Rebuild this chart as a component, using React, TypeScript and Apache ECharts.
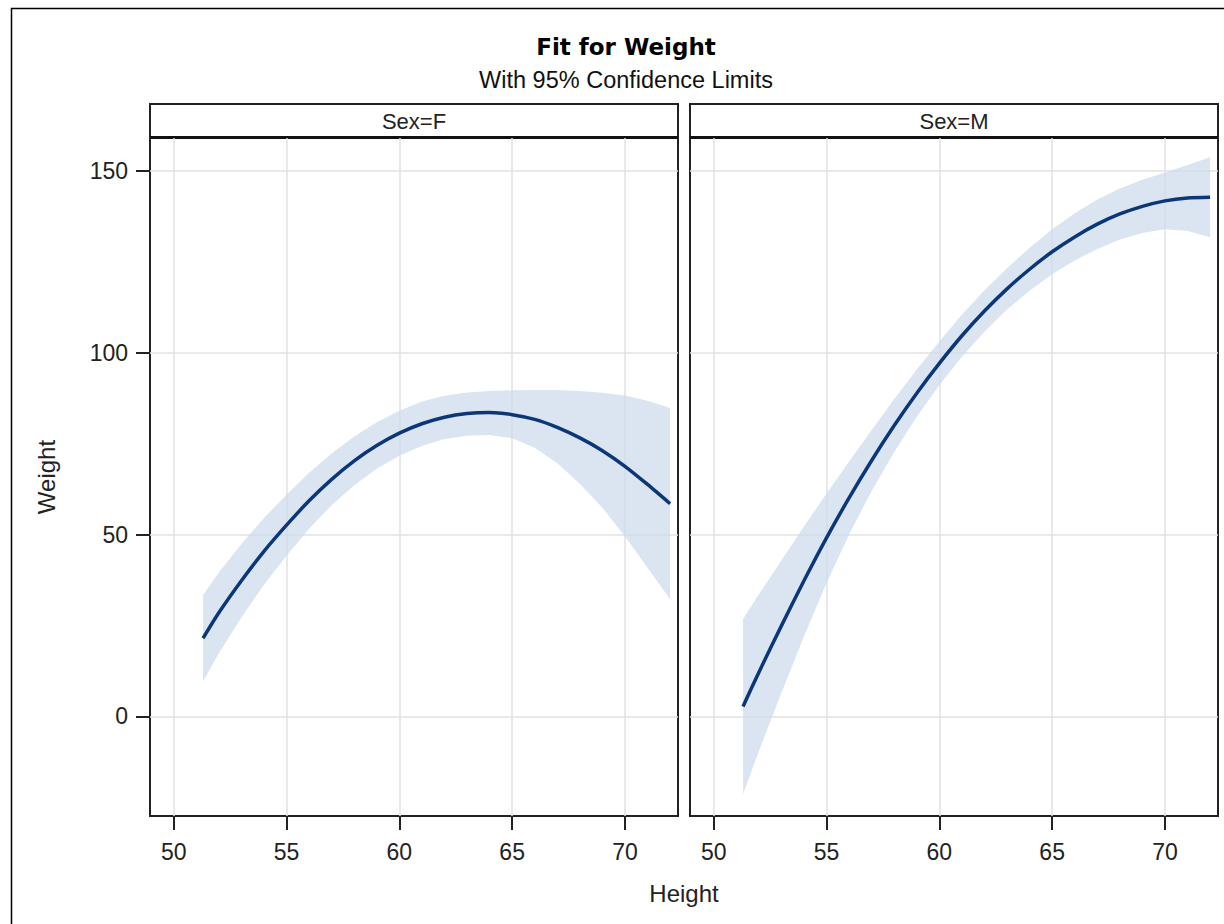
import React, { useEffect, useRef } from "react";
import * as echarts from "echarts";

// ---- data ----
const heights = [51.3, 52, 53, 54, 55, 56, 57, 58, 59, 60, 61, 62, 63, 64, 65, 66, 67, 68, 69, 70, 71, 72];

const fFit = [21.5, 28.5, 37.3, 45.4, 52.6, 59.3, 65.2, 70.3, 74.5, 77.9, 80.5, 82.3, 83.3, 83.6, 83.0, 81.7, 79.5, 76.6, 73.1, 68.8, 63.8, 58.5];
const fUpper = [33.4, 39.6, 47.4, 54.6, 61.0, 67.0, 72.3, 77.0, 80.9, 84.1, 86.6, 88.2, 89.1, 89.5, 89.7, 89.8, 89.8, 89.5, 89.0, 88.3, 86.8, 84.8];
const fLower = [9.6, 17.4, 27.2, 36.2, 44.2, 51.6, 58.1, 63.6, 68.1, 71.7, 74.4, 76.3, 77.2, 77.4, 76.5, 73.9, 69.6, 64.0, 57.4, 49.5, 40.9, 32.2];

const mFit = [2.7, 12.1, 24.9, 37.3, 49.1, 60.1, 70.4, 80.0, 88.9, 97.1, 104.7, 111.5, 117.6, 123.0, 127.8, 131.9, 135.4, 138.2, 140.3, 141.8, 142.6, 142.8];
const mUpper = [26.8, 33.5, 42.9, 52.2, 61.3, 70.1, 78.8, 87.3, 95.4, 103.1, 110.5, 117.2, 123.3, 128.9, 134.0, 138.4, 142.2, 145.2, 147.6, 149.6, 151.7, 153.8];
const mLower = [-21.4, -9.6, 6.4, 22.0, 36.7, 50.0, 62.0, 72.7, 82.4, 91.1, 98.9, 105.8, 111.9, 117.1, 121.6, 125.4, 128.6, 131.2, 133.0, 134.0, 133.5, 131.8];

const panelLabels = ["Sex=F", "Sex=M"];
const xTicks = [50, 55, 60, 65, 70];
const yTicks = [0, 50, 100, 150];

const TITLE = "Fit for Weight";
const SUBTITLE = "With 95% Confidence Limits";
const X_NAME = "Height";
const Y_NAME = "Weight";

// ---- styling ----
const FONT = "Liberation Sans";
const LINE_COLOR = "#0b3779";
const BAND_FILL = "rgba(205,219,236,0.72)";
const GRID_COLOR = "#e2e2e2";
const FRAME = "#222";

const X_MIN = 48.95;
const X_MAX = 72.35;
const Y_MIN = -27.4;
const Y_MAX = 159.1;

const GRID_TOP = 138;
const GRID_H = 678;
const GRID_W = 528;
const LEFTS = [150, 690];

export default function App() {
  const ref = useRef<HTMLDivElement>(null);

  useEffect(() => {
    document.body.style.margin = "0";
    const chart = echarts.init(ref.current as HTMLDivElement, null, { renderer: "svg" });

    const panels = [
      { fit: fFit, upper: fUpper, lower: fLower },
      { fit: mFit, upper: mUpper, lower: mLower },
    ];

    const grids = LEFTS.map((left) => ({
      left,
      top: GRID_TOP,
      width: GRID_W,
      height: GRID_H,
      show: true,
      borderColor: FRAME,
      borderWidth: 2,
      backgroundColor: "transparent",
      containLabel: false,
    }));

    const xAxes = LEFTS.map((_, i) => ({
      type: "value",
      gridIndex: i,
      position: "bottom",
      min: X_MIN,
      max: X_MAX,
      axisLine: { show: false, onZero: false },
      axisTick: {
        show: true,
        length: 14,
        lineStyle: { color: FRAME, width: 2 },
        customValues: xTicks,
      },
      axisLabel: {
        show: true,
        customValues: xTicks,
        fontSize: 23,
        fontFamily: FONT,
        color: "#222",
        margin: 24,
      },
      splitLine: { show: true, lineStyle: { color: GRID_COLOR, width: 1.5 } },
    }));

    const yAxes = LEFTS.map((_, i) => ({
      type: "value",
      gridIndex: i,
      position: "left",
      min: Y_MIN,
      max: Y_MAX,
      axisLine: { show: false, onZero: false },
      axisTick: {
        show: i === 0,
        length: 14,
        lineStyle: { color: FRAME, width: 2 },
        customValues: yTicks,
      },
      axisLabel: {
        show: i === 0,
        customValues: yTicks,
        fontSize: 23,
        fontFamily: FONT,
        color: "#222",
        margin: 22,
      },
      splitLine: { show: true, lineStyle: { color: GRID_COLOR, width: 1.5 } },
    }));

    const series: any[] = [];
    panels.forEach((p, idx) => {
      series.push({
        type: "custom",
        xAxisIndex: idx,
        yAxisIndex: idx,
        silent: true,
        z: 1,
        data: [[heights[0], p.upper[0]]],
        renderItem: (_params: any, api: any) => {
          const pts: number[][] = [];
          for (let i = 0; i < heights.length; i++) pts.push(api.coord([heights[i], p.upper[i]]));
          for (let i = heights.length - 1; i >= 0; i--) pts.push(api.coord([heights[i], p.lower[i]]));
          return { type: "polygon", shape: { points: pts }, style: { fill: BAND_FILL } };
        },
      });
      series.push({
        type: "line",
        xAxisIndex: idx,
        yAxisIndex: idx,
        silent: true,
        z: 3,
        showSymbol: false,
        smooth: 0.25,
        data: heights.map((h, i) => [h, p.fit[i]]),
        lineStyle: { color: LINE_COLOR, width: 3.5 },
      });
    });

    const graphics: any[] = [
      {
        type: "rect",
        silent: true,
        shape: { x: 11.5, y: 8.5, width: 1400, height: 1000 },
        style: { fill: "none", stroke: "#000", lineWidth: 1.5 },
      },
      {
        type: "text",
        x: 626,
        y: 47,
        style: {
          text: TITLE,
          fontSize: 23,
          fontWeight: "bold",
          fontFamily: "DejaVu Sans",
          fill: "#000",
          align: "center",
          verticalAlign: "middle",
        },
      },
      {
        type: "text",
        x: 626,
        y: 80,
        style: {
          text: SUBTITLE,
          fontSize: 23.5,
          fontFamily: FONT,
          fill: "#111",
          align: "center",
          verticalAlign: "middle",
        },
      },
      {
        type: "text",
        x: 684,
        y: 893,
        style: {
          text: X_NAME,
          fontSize: 24,
          fontFamily: FONT,
          fill: "#222",
          align: "center",
          verticalAlign: "middle",
        },
      },
      {
        type: "text",
        x: 46,
        y: 477,
        rotation: Math.PI / 2,
        style: {
          text: Y_NAME,
          fontSize: 24,
          fontFamily: FONT,
          fill: "#222",
          align: "center",
          verticalAlign: "middle",
        },
      },
    ];

    LEFTS.forEach((left, i) => {
      graphics.push({
        type: "rect",
        silent: true,
        shape: { x: left, y: 104, width: GRID_W, height: 34 },
        style: { fill: "#fff", stroke: FRAME, lineWidth: 2 },
      });
      graphics.push({
        type: "line",
        silent: true,
        shape: { x1: left, y1: 137.5, x2: left + GRID_W, y2: 137.5 },
        style: { stroke: "#111", lineWidth: 3 },
      });
      graphics.push({
        type: "text",
        x: left + GRID_W / 2,
        y: 121,
        style: {
          text: panelLabels[i],
          fontSize: 22,
          fontFamily: FONT,
          fill: "#222",
          align: "center",
          verticalAlign: "middle",
        },
      });
    });

    chart.setOption({
      animation: false,
      backgroundColor: "#fff",
      grid: grids,
      xAxis: xAxes,
      yAxis: yAxes,
      series,
      graphic: graphics,
    });

    return () => chart.dispose();
  }, []);

  return <div ref={ref} style={{ width: 1224, height: 924 }} />;
}
